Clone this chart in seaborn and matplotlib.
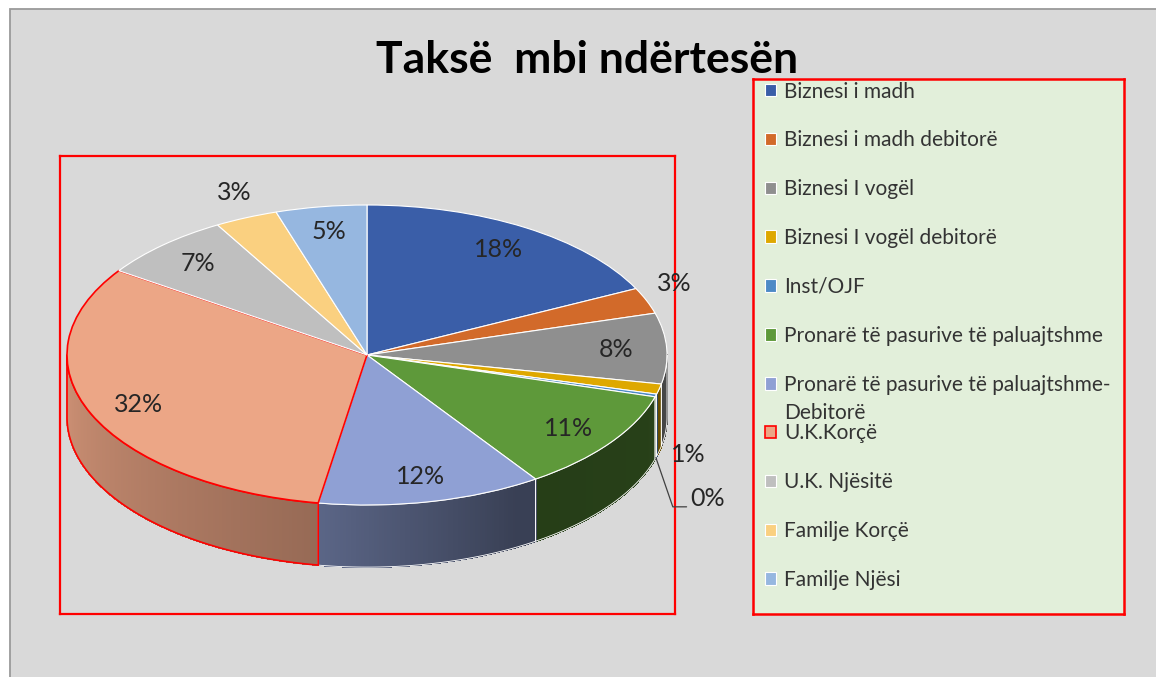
import numpy as np
import matplotlib
matplotlib.use("Agg")
import matplotlib.pyplot as plt
import matplotlib.colors as mcolors
import seaborn as sns
from matplotlib.patches import Rectangle, Polygon
from matplotlib.collections import PolyCollection
from matplotlib.transforms import Affine2D

# ---------------- data ----------------
title = "Taksë  mbi ndërtesën"
categories = [
    "Biznesi i madh",
    "Biznesi i madh debitorë",
    "Biznesi I vogël",
    "Biznesi I vogël debitorë",
    "Inst/OJF",
    "Pronarë të pasurive të paluajtshme",
    "Pronarë të pasurive të paluajtshme-",
    "U.K.Korçë",
    "U.K. Njësitë",
    "Familje Korçë",
    "Familje Njësi",
]
label_continuation = {6: "Debitorë"}
values = [17.7, 2.8, 7.6, 1.1, 0.3, 11.0, 12.1, 31.9, 7.2, 3.4, 4.9]
colors = ["#3A5EA8", "#D26A2A", "#8F8F8F", "#DEA800", "#4D8AC6", "#5E993A",
          "#8FA0D4", "#ECA686", "#BFBFBF", "#FAD080", "#96B7E0"]
highlight = 7  # U.K.Korçë drawn with red outline

# ---------------- style ----------------
sns.set_theme(style="white")
plt.rcParams['font.family'] = ['Lato', 'DejaVu Sans']

W, H = 1156, 677
fig = plt.figure(figsize=(W / 100, H / 100), dpi=100, facecolor="white")


def fbox(x0, y0, x1, y1):
    return [x0 / W, 1 - y1 / H, (x1 - x0) / W, (y1 - y0) / H]


# panel background
fig.patches.append(Rectangle((10 / W, -0.02), 1.05, 1 - 9 / H + 0.02,
                             transform=fig.transFigure, facecolor="#D9D9D9",
                             edgecolor="#9A9A9A", lw=1.3, zorder=-5))

fig.text(587 / W, 1 - 60 / H, title, ha="center", va="center",
         fontsize=32, fontweight="bold", color="black")

# ---------------- pie ----------------
ax = fig.add_axes(fbox(60, 156, 675, 614))
wedges, _ = ax.pie(values, colors=colors, startangle=90, counterclock=False,
                   radius=1.0, wedgeprops=dict(edgecolor="white", linewidth=0.8))
ax.set_aspect("auto")
ax.set_xlim((60 - 367) / 300, (675 - 367) / 300)
ax.set_ylim((355 - 614) / 300, (355 - 156) / 300)
ax.set_frame_on(True)
ax.set_facecolor("none")
ax.set_xticks([])
ax.set_yticks([])
for s in ax.spines.values():
    s.set_color("red")
    s.set_linewidth(1.6)

ry = 0.5
depth = 0.207
squash = Affine2D().scale(1, ry) + ax.transData
for i, w in enumerate(wedges):
    w.set_transform(squash)
    w.set_zorder(3)
wedges[highlight].set_edgecolor("red")
wedges[highlight].set_linewidth(1.2)


def shade(t):
    return np.interp(t, [180, 260, 300, 340, 360], [0.88, 0.64, 0.40, 0.42, 0.52])


polys, pcols = [], []
outlines = []
for i, (w, c) in enumerate(zip(wedges, colors)):
    base = np.array(mcolors.to_rgb(c))
    t1, t2 = w.theta1, w.theta2
    for k in (-1, 0, 1):
        lo, hi = max(t1, 180 + 360 * k), min(t2, 360 + 360 * k)
        if hi <= lo:
            continue
        ts = np.linspace(lo, hi, max(2, int((hi - lo) / 0.5) + 2))
        for a, b in zip(ts[:-1], ts[1:]):
            ra, rb = np.radians(a), np.radians(b)
            polys.append([(np.cos(ra), ry * np.sin(ra)), (np.cos(rb), ry * np.sin(rb)),
                          (np.cos(rb), ry * np.sin(rb) - depth),
                          (np.cos(ra), ry * np.sin(ra) - depth)])
            pcols.append(np.clip(base * shade(((a + b) / 2) % 360), 0, 1))
        arc = np.radians(np.linspace(lo, hi, 120))
        xs, ys = np.cos(arc), ry * np.sin(arc)
        outlines.append((np.column_stack([np.r_[xs, xs[::-1]], np.r_[ys, ys[::-1] - depth]]),
                         "red" if i == highlight else "white",
                         1.2 if i == highlight else 0.6, 2.5 if i == highlight else 2.2))

ax.add_collection(PolyCollection(polys, facecolors=pcols, edgecolors=pcols,
                                 linewidths=0.6, antialiaseds=False, zorder=2))
for pts, ec, lw, z in outlines:
    ax.add_patch(Polygon(pts, closed=True, facecolor="none", edgecolor=ec, lw=lw, zorder=z))

# ---------------- labels ----------------
total = sum(values)
prev_out = None
for i, w in enumerate(wedges):
    p = values[i] / total * 100
    txt = f"{p:.0f}%"
    mid = np.radians((w.theta1 + w.theta2) / 2)
    c, s = np.cos(mid), np.sin(mid)
    if p >= 4:
        r = 0.83
        ax.text(r * c, ry * r * s, txt, ha="center", va="center",
                fontsize=18, color="#262626", zorder=6)
        prev_out = None
        continue
    if prev_out is not None and abs(np.degrees(mid - prev_out)) < 5:
        ax.annotate(txt, xy=(c, ry * s - depth), xytext=(34, -52),
                    textcoords="offset pixels", ha="left", va="bottom",
                    fontsize=18, color="#262626", zorder=6, annotation_clip=False,
                    arrowprops=dict(arrowstyle="-", color="#404040", lw=0.9,
                                    shrinkA=0, shrinkB=0, relpos=(0, 0.12),
                                    connectionstyle="angle,angleA=0,angleB=-71"))
    else:
        r = 1.1
        x, y = r * c, ry * r * s
        if s < 0:
            y -= depth
            va = "center"
        else:
            va = "bottom"
        ax.text(x, y, txt, ha="center", va=va, fontsize=18, color="#262626", zorder=6)
    prev_out = mid

# ---------------- legend ----------------
lax = fig.add_axes(fbox(753, 79, 1124, 614))
lax.set_facecolor("#E2EFDA")
lax.set_xticks([])
lax.set_yticks([])
for s in lax.spines.values():
    s.set_color("red")
    s.set_linewidth(1.8)
leg = lax.legend(wedges, categories, loc="upper left",
                 bbox_to_anchor=((765 - 753) / 371, 1 - (81.5 - 79) / 535),
                 frameon=False, fontsize=15, handlelength=0.55, handleheight=0.55,
                 handletextpad=0.35, labelspacing=1.385, borderpad=0, borderaxespad=0)
for t in leg.get_texts():
    t.set_color("#333333")
for idx, extra in label_continuation.items():
    lax.annotate(extra, xy=(0, 0), xycoords=leg.get_texts()[idx], xytext=(0, -24),
                 textcoords="offset pixels", ha="left", va="baseline", zorder=10,
                 fontsize=15, color="#333333", annotation_clip=False)

fig.savefig("out.png", dpi=100, facecolor=fig.get_facecolor())
